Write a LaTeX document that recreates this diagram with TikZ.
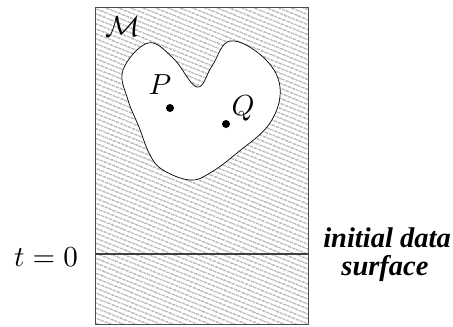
\documentclass[tikz,border=0pt]{standalone}
\usepackage{fontspec}
\newfontfamily\labelfont{Liberation Serif}
\usetikzlibrary{patterns.meta}
\tikzset{
  hatch/.style={pattern={Lines[angle=-22,distance=4pt,line width=0.8pt]},pattern color=black!72},
  boxline/.style={draw=black!70,line width=1pt},
  mathlbl/.style={inner sep=0pt,scale=2.9},
  txtlbl/.style={inner sep=0pt,scale=2.85,font=\labelfont\bfseries\itshape,anchor=base},
  pt/.style={circle,fill=black,inner sep=0pt,minimum size=8pt}
}
\begin{document}
\begin{tikzpicture}[x=1pt,y=-1pt]
\useasboundingbox (0,0) rectangle (453,327);
% spacetime box
\path[hatch] (95,7) rectangle (308,324);
\draw[boxline] (95,7) rectangle (308,324);
\draw[black!75,line width=1.8pt] (95,254) -- (308,254);
% region
\draw[fill=white,line width=0.7pt] plot[smooth cycle,tension=0.65] coordinates {
 (123,70) (148,43) (173,58) (197,87) (212,66) (230,41) (263,57) (280,87)
 (270,123) (237,153) (210,173) (190,180) (163,170) (150,155) (139,127) (128,100)};
% points
\node[pt] (p) at (170,108) {};
\node[pt] (q) at (226,124) {};
\node[mathlbl] (pl) at (160,85) {$P$};
\node[mathlbl] (ql) at (243,108) {$Q$};
\node[mathlbl] (ml) at (123,27) {$\mathcal{M}$};
\node[mathlbl] (tl) at (46,257) {$t=0$};
\node[txtlbl] (il) at (387,247) {initial data};
\node[txtlbl] (sl) at (385,275) {surface};
\end{tikzpicture}
\end{document}
